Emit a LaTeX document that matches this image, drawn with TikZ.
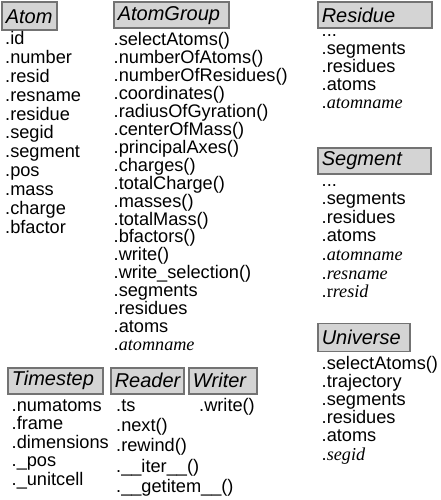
\documentclass[tikz,border=0pt]{standalone}
\usepackage{fontspec}
\setmainfont{Liberation Sans}
\newfontfamily\ser{Liberation Serif}
\newcommand{\tdots}{...}
\begin{document}
\begin{tikzpicture}[x=1pt,y=-1pt,
  clsbox/.style={draw=black!55, fill=black!17, line width=1.6pt, inner xsep=4pt, inner ysep=0pt,
    anchor=north west, align=left, font=\fontsize{20}{22}\selectfont\itshape},
  item/.style={inner sep=0pt, anchor=base west, font=\fontsize{18.2}{18}\selectfont}]
\useasboundingbox (0,0) rectangle (440,500);
% class boxes
\node[clsbox, text width=47pt, minimum height=28pt] (atom) at (1,1.5) {Atom};
\node[clsbox, text width=107pt, minimum height=26pt] (atomgroup) at (113,1.5) {AtomGroup};
\node[clsbox, text width=106pt, minimum height=26pt] (residue) at (317,1.5) {Residue};
\node[clsbox, text width=105pt, minimum height=26pt] (segment) at (317,147) {Segment};
\node[clsbox, text width=84pt, minimum height=28pt] (universe) at (317,322.5) {Universe};
\node[clsbox, text width=87pt, minimum height=26pt] (timestep) at (7,367) {Timestep};
\node[clsbox, text width=65pt, minimum height=26pt] (reader) at (110,367) {Reader};
\node[clsbox, text width=60pt, minimum height=26pt] (writer) at (188,367) {Writer};
% member lists
\foreach \t [count=\i] in {.id,.number,.resid,.resname,.residue,.segid,.segment,.pos,.mass,.charge,.bfactor}
  \node[item] (atom-\i) at (5,{45+(\i-1)*18.8}) {\t};
\foreach \t [count=\i] in {.selectAtoms(),.numberOfAtoms(),.numberOfResidues(),.coordinates(),.radiusOfGyration(),.centerOfMass(),.principalAxes(),.charges(),.totalCharge(),.masses(),.totalMass(),.bfactors(),.write(),.write\_selection(),.segments,.residues,.atoms,{.{\ser\itshape atomname}}}
  \node[item] (ag-\i) at (113.5,{45.5+(\i-1)*17.95}) {\t};
\foreach \t [count=\i] in {\tdots,.segments,.residues,.atoms,{.{\ser\itshape atomname}}}
  \node[item] (res-\i) at (321.5,{36.5+(\i-1)*18.1}) {\t};
\foreach \t [count=\i] in {\tdots,.segments,.residues,.atoms,{.{\ser\itshape atomname}},{.{\ser\itshape resname}},{.{\ser r\itshape resid}}}
  \node[item] (seg-\i) at (321.5,{186+(\i-1)*18.6}) {\t};
\foreach \t [count=\i] in {.selectAtoms(),.trajectory,.segments,.residues,.atoms,{.{\ser\itshape segid}}}
  \node[item] (uni-\i) at (321.5,{369+(\i-1)*18.2}) {\t};
\foreach \t [count=\i] in {.numatoms,.frame,.dimensions,.\_pos,.\_unitcell}
  \node[item] (ts-\i) at (11.5,{411+(\i-1)*18.6}) {\t};
\foreach \t [count=\i] in {.ts,.next(),.rewind(),.\_\_iter\_\_(),.\_\_getitem\_\_()}
  \node[item] (rd-\i) at (116,{411.5+(\i-1)*20.2}) {\t};
\node[item] (wr-1) at (199,411.5) {.write()};
\end{tikzpicture}
\end{document}
